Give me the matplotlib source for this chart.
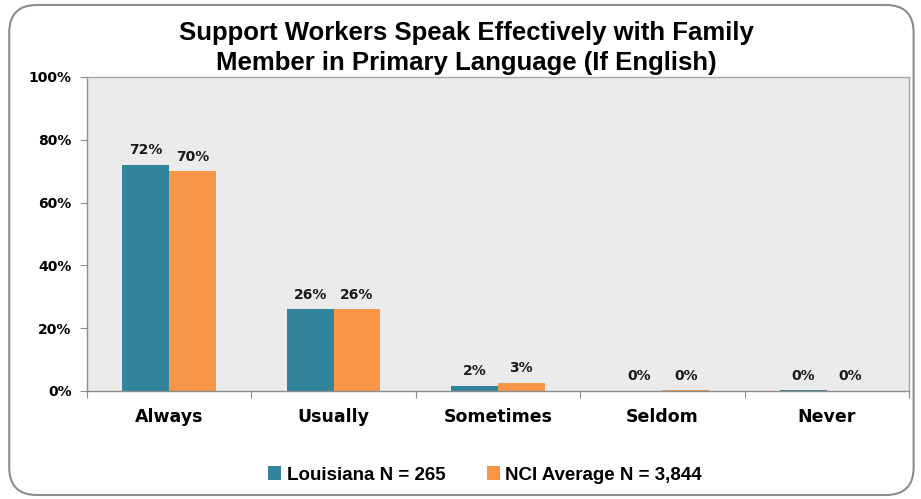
import matplotlib
matplotlib.use('Agg')
import matplotlib.pyplot as plt
import numpy as np
from matplotlib.patches import FancyBboxPatch

# survey responses (percent)
categories = ['Always', 'Usually', 'Sometimes', 'Seldom', 'Never']
louisiana = [72, 26, 1.6, 0.0, 0.3]
nci_avg = [70, 26, 2.6, 0.3, 0.0]
series_names = ['Louisiana N = 265', 'NCI Average N = 3,844']
title = 'Support Workers Speak Effectively with Family\nMember in Primary Language (If English)'

teal = '#31849b'
orange = '#f79646'
narrow = ['Liberation Sans', 'DejaVu Sans']

fig = plt.figure(figsize=(9.21, 4.99), dpi=100)
# rounded frame around the whole chart
frame = FancyBboxPatch((0.010, 0.008), 0.982, 0.982, boxstyle='round,pad=0,rounding_size=0.03',
                       transform=fig.transFigure, fc='white', ec='#8c8c8c', lw=1.5,
                       mutation_aspect=921 / 499, zorder=-5)
fig.patches.append(frame)

ax = fig.add_axes([87 / 921, 1 - 391 / 499, (909 - 87) / 921, (391 - 77) / 499])
ax.set_facecolor('#ebebeb')

x = np.arange(len(categories))
w = 0.285
b1 = ax.bar(x - w / 2, louisiana, w, color=teal, label=series_names[0])
b2 = ax.bar(x + w / 2, nci_avg, w, color=orange, label=series_names[1])

for bars, vals in ((b1, louisiana), (b2, nci_avg)):
    for r, v in zip(bars, vals):
        ax.text(r.get_x() + r.get_width() / 2, v + 2.4, f'{v:.0f}%', ha='center', va='bottom',
                fontsize=10, fontweight='bold', color='#1a1a1a')

ax.set_xlim(-0.5, len(categories) - 0.5)
ax.set_ylim(0, 100)
ax.set_yticks(range(0, 101, 20))
ax.set_yticklabels([f'{t}%' for t in range(0, 101, 20)], fontsize=10, fontweight='bold')
ax.set_xticks(np.arange(len(categories) + 1) - 0.5, minor=False)
ax.set_xticklabels([])
ax.set_xticks(x, minor=True)
ax.set_xticklabels(categories, minor=True, fontsize=12.5, fontweight='bold')
ax.tick_params(axis='x', which='minor', length=0, pad=12)
ax.tick_params(axis='x', which='major', length=5, color='#8c8c8c')
ax.tick_params(axis='y', length=5, color='#8c8c8c', pad=6)
for s in ax.spines.values():
    s.set_color('#a6a6a6')
    s.set_linewidth(1)
ax.spines['left'].set_color('#8c8c8c')
ax.spines['bottom'].set_color('#8c8c8c')

fig.text(466 / 921, 1 - 48 / 499, title, ha='center', va='center', fontsize=18.5,
         fontweight='bold', family=narrow, linespacing=1.35)

leg = fig.legend(handles=[b1, b2], loc='center', bbox_to_anchor=(485 / 921, 1 - 475 / 499),
                 ncol=2, frameon=False, handlelength=0.7, handleheight=0.7, handletextpad=0.3,
                 columnspacing=2.2, prop={'family': narrow, 'weight': 'bold', 'size': 13.5})

fig.savefig('out.png', dpi=100)
